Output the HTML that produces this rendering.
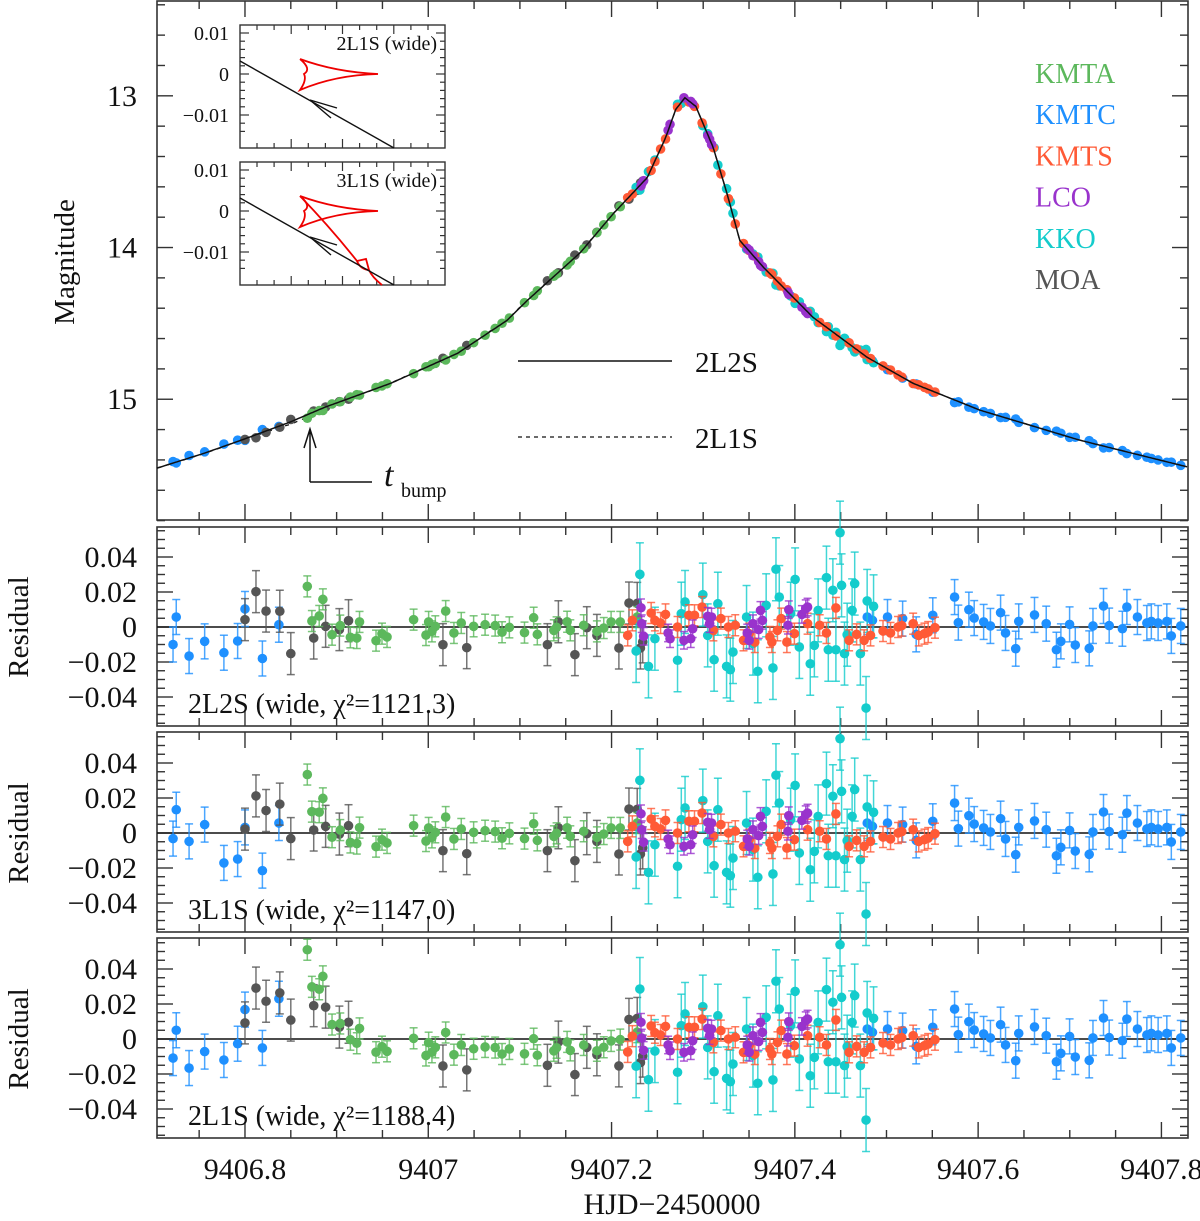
<!DOCTYPE html>
<html><head><meta charset="utf-8"><style>
html,body{margin:0;padding:0;background:#fff;}
svg{display:block;}
text{font-family:"Liberation Serif",serif;}
</style></head><body>
<svg id="chart" width="1200" height="1221" viewBox="0 0 1200 1221" xmlns="http://www.w3.org/2000/svg">
<g id="frames"></g>
<g id="content"></g>
</svg>
<script>
// ---------- data ----------
const modelT=[9406.704,9406.756,9406.799,9406.849,9406.887,9406.959,9407.032,9407.086,9407.108,9407.166,9407.202,9407.239,9407.259,9407.270,9407.280,9407.292,9407.311,9407.326,9407.340,9407.366,9407.420,9407.479,9407.529,9407.602,9407.711,9407.829];
const modelM=[15.454,15.355,15.263,15.151,15.053,14.895,14.697,14.480,14.349,14.033,13.776,13.539,13.276,13.09,13.013,13.07,13.342,13.645,13.954,14.132,14.461,14.724,14.895,15.072,15.270,15.447];
// residual differences of other models relative to 2L2S
const deltaT=[9406.70,9406.80,9406.84,9406.85,9406.87,9406.885,9406.90,9406.93,9406.96,9407.0,9407.05,9407.2,9407.25,9407.83];
const delta3L1S=[0,-0.002,0.008,0.012,0.010,0.004,0.001,0,0,0,0,0,0,0];
const delta2L1S=[0,0.005,0.018,0.026,0.028,0.020,0.009,0.002,-0.002,-0.005,-0.006,-0.004,0,0];

const kmtcT=[9406.7215,9406.725,9406.739,9406.756,9406.777,9406.792,9406.800,9406.819,9406.837,9407.479,9407.4847,9407.5011,9407.5176,9407.5324,9407.5505,9407.5743,9407.5784,9407.5899,9407.5957,9407.606,9407.6134,9407.6245,9407.6299,9407.641,9407.6443,9407.6615,9407.6743,9407.6854,9407.6903,9407.6998,9407.706,9407.7212,9407.7253,9407.7368,9407.743,9407.7574,9407.7623,9407.7738,9407.7841,9407.789,9407.7964,9407.8059,9407.8108,9407.8211];
const kmtcR=[-0.010,0.0057,-0.0166,-0.0082,-0.0147,-0.008,0.0103,-0.018,0.0013,0.0057,0.0038,0.0057,0.0048,-0.0042,0.0067,0.0171,0.0025,0.0099,0.0051,0.0029,0.0006,0.0082,-0.0034,-0.0124,0.0032,0.0069,0.0019,-0.013,-0.0082,0.0015,-0.0103,-0.0122,0.0006,0.012,0.0008,-0.001,0.0114,0.0057,0.0023,0.0032,0.0023,0.0032,-0.0051,0.0006];
const kmtcEarly3L1S=[-0.0032,0.0133,-0.0048,0.0048,-0.0171,-0.0149,0.0032,-0.0215,0.0057];
const kmtcEarly2L1S=[-0.0109,0.005,-0.0166,-0.0072,-0.012,-0.0027,0.0168,-0.0051,0.023];

const moaT=[9406.800,9406.812,9406.823,9406.838,9406.850,9406.875,9406.888,9406.903,9406.913,9407.016,9407.042,9407.130,9407.142,9407.160,9407.173,9407.184,9407.208,9407.219,9407.228,9407.2315,9407.234];
const moaR=[0.0042,0.0202,0.0091,0.009,-0.0152,-0.0063,0.0004,-0.0015,0.0036,-0.0101,-0.0118,-0.0101,0.003,-0.0158,-0.0004,-0.0048,-0.012,0.0137,0.0135,-0.0120,-0.0085];

const kmtaT=[9406.868,9406.873,9406.881,9406.885,9406.895,9406.904,9406.915,9406.922,9406.925,9406.943,9406.9495,9406.955,9406.984,9406.9975,9407.0004,9407.004,9407.0077,9407.019,9407.028,9407.036,9407.0495,9407.062,9407.073,9407.0805,9407.0885,9407.105,9407.115,9407.119,9407.137,9407.140,9407.1515,9407.155,9407.1696,9407.184,9407.1915,9407.1995,9407.2095,9407.228];
const kmtaR=[0.0232,0.0034,0.0063,0.0158,-0.0044,0.0008,-0.0059,-0.0063,0.0029,-0.0078,-0.0038,-0.0057,0.0042,-0.0046,0.0029,-0.0025,0.0004,0.0091,-0.0034,0.0023,0.0004,0.0013,0.0008,-0.003,-0.0002,-0.0032,0.0053,-0.0042,-0.0019,-0.0002,0.003,-0.0019,0.001,-0.0025,-0.0006,0.0029,0.0029,0.0057];

const kmtsT=[9407.2176,9407.2227,9407.2432,9407.2473,9407.2535,9407.2589,9407.272,9407.2844,9407.2905,9407.2988,9407.3111,9407.3193,9407.3275,9407.335,9407.344,9407.3502,9407.3563,9407.3728,9407.3749,9407.381,9407.3851,9407.3913,9407.3995,9407.4139,9407.4271,9407.4345,9407.4448,9407.4592,9407.4674,9407.4756,9407.4826,9407.4962,9407.5044,9407.5126,9407.5167,9407.5291,9407.5352,9407.5414,9407.5455,9407.5529];
const kmtsR=[-0.0048,0.0038,0.008,0.0038,0.0023,0.0072,0,0.0067,0.0067,0.0114,-0.0019,0.0048,0,0.001,-0.0076,-0.0038,-0.0086,-0.0057,-0.0086,-0.0019,0.0048,-0.0086,-0.0038,0.0019,0.001,-0.0034,0.0109,-0.0076,-0.0042,-0.0076,-0.0048,-0.0023,-0.0034,0,0.0008,0.0019,-0.0048,-0.0038,-0.0029,-0.0004];

const lcoT=[9407.2321,9407.2329,9407.235,9407.2617,9407.2638,9407.279,9407.2864,9407.2885,9407.305,9407.307,9407.3091,9407.3481,9407.3502,9407.3543,9407.3605,9407.3625,9407.3646,9407.3925,9407.3934,9407.4077,9407.4119,9407.4139];
const lcoR=[0.011,0.0019,-0.0053,-0.0034,-0.0067,-0.0076,-0.0067,-0.001,0.0061,0.0019,0.0057,-0.0034,-0.0076,0.0019,-0.0015,0.0095,0.0038,0.001,0.0099,0.0072,0.0105,0.0114];

const kkoT=[9407.2268,9407.2309,9407.2403,9407.2473,9407.272,9407.2761,9407.2802,9407.2996,9407.3049,9407.3119,9407.316,9407.3255,9407.3296,9407.3325,9407.3473,9407.3543,9407.3596,9407.3687,9407.3761,9407.3794,9407.383,9407.3954,9407.4003,9407.4049,9407.4168,9407.4213,9407.4254,9407.4345,9407.4365,9407.4415,9407.4448,9407.4493,9407.451,9407.4542,9407.4571,9407.4625,9407.4653,9407.4715,9407.4777,9407.4789,9407.4859];
const kkoR=[-0.0137,0.0301,-0.0225,-0.0067,-0.019,0.0076,0.0143,0.0185,-0.0048,-0.0187,0.0133,-0.0225,-0.0244,-0.0143,0.0057,-0.0095,-0.0253,0.0124,-0.0234,0.033,0.0171,0.0076,0.0272,-0.0114,-0.021,-0.0105,0.0095,0.0282,-0.013,0.021,-0.013,0.0539,0.0238,-0.0152,-0.0044,0.0095,0.0248,-0.0152,-0.0463,0.0149,0.0118];

const seriesNames=['KMTA','KMTC','KMTS','LCO','KKO','MOA'];
const magTicks=[13,14,15];
const resTicks=[0.04,0.02,0,-0.02,-0.04];
const timeTicks=[9406.8,9407,9407.2,9407.4,9407.6,9407.8];

// ---------- geometry ----------
const L=157,R=1188,T0=9406.704,T1=9407.829;
const MAIN={top:1,bot:520,m0:12.375,m1:15.796};
const PANELS=[{top:527,bot:726,zero:627,label:'2L2S (wide, χ²=1121.3)',name:'2l2s'},
              {top:732,bot:932,zero:833,label:'3L1S (wide, χ²=1147.0)',name:'3l1s'},
              {top:938,bot:1138,zero:1039,label:'2L1S (wide, χ²=1188.4)',name:'2l1s'}];
const RS=1750;
const xs=t=>L+(t-T0)/(T1-T0)*(R-L);
const ym=m=>MAIN.top+(m-MAIN.m0)/(MAIN.m1-MAIN.m0)*(MAIN.bot-MAIN.top);
const yr=(p,r)=>p.zero-r*RS;
function interp(tArr,vArr,t){
  if(t<=tArr[0])return vArr[0];
  for(let i=1;i<tArr.length;i++){if(t<=tArr[i]){const f=(t-tArr[i-1])/(tArr[i]-tArr[i-1]);return vArr[i-1]+f*(vArr[i]-vArr[i-1]);}}
  return vArr[vArr.length-1];
}
const NS='http://www.w3.org/2000/svg';
const content=document.getElementById('content');
const frames=document.getElementById('frames');
function el(tag,attrs,parent){const e=document.createElementNS(NS,tag);for(const k in attrs)e.setAttribute(k,attrs[k]);(parent||content).appendChild(e);return e;}
function txt(s,attrs,parent){if(!attrs.fill)attrs.fill='#111';const e=el('text',attrs,parent);e.textContent=s;return e;}

const COL={KMTA:'#5cb85c',KMTC:'#1e90ff',KMTS:'#ff5a36',LCO:'#9933cc',KKO:'#14cccc',MOA:'#555555'};
const ERR={KMTA:0.006,KMTC:0.010,KMTS:0.006,LCO:0.005,KKO:0.018,MOA:0.012};
const DS=[
 {n:'KMTC',t:kmtcT,r:kmtcR},{n:'MOA',t:moaT,r:moaR},{n:'KMTA',t:kmtaT,r:kmtaR},
 {n:'KKO',t:kkoT,r:kkoR},{n:'KMTS',t:kmtsT,r:kmtsR},{n:'LCO',t:lcoT,r:lcoR}];

// ---------- frames & ticks ----------
function frame(top,bot,name){
  const r=el('rect',{x:L,y:top,width:R-L,height:bot-top,fill:'none',stroke:'#333','stroke-width':1.6},frames);
  
  
  for(let t=9406.75;t<T1;t+=0.05){
    const x=xs(t);
    const isMaj=timeTicks.some(v=>Math.abs(v-t)<1e-6);
    const len=isMaj?16:8;
    el('line',{x1:x,y1:top,x2:x,y2:top+len,stroke:'#333','stroke-width':1.4},frames);
    el('line',{x1:x,y1:bot,x2:x,y2:bot-len,stroke:'#333','stroke-width':1.4},frames);
  }
}
frame(MAIN.top,MAIN.bot,'main-panel-frame');
for(let m=12.4;m<15.8;m+=0.2){
  const y=ym(m);const isMaj=magTicks.some(v=>Math.abs(v-m)<1e-6);const len=isMaj?16:8;
  el('line',{x1:L,y1:y,x2:L+len,y2:y,stroke:'#333','stroke-width':1.4},frames);
  el('line',{x1:R,y1:y,x2:R-len,y2:y,stroke:'#333','stroke-width':1.4},frames);
}
magTicks.forEach(m=>{const e=txt(String(m),{x:137,y:ym(m)+10,'font-size':30,'text-anchor':'end'});
  
  });
const mt=txt('Magnitude',{x:0,y:0,'font-size':29,'text-anchor':'middle',transform:'translate(74,262) rotate(-90)'});



PANELS.forEach((p,pi)=>{
  frame(p.top,p.bot,'residual-panel-frame-'+p.name);
  for(let k=-11;k<=11;k++){
    const r=k*0.005;const y=yr(p,r);if(y<p.top+1||y>p.bot-1)continue;
    const len=(k%4===0)?16:8;
    el('line',{x1:L,y1:y,x2:L+len,y2:y,stroke:'#333','stroke-width':1.4},frames);
    el('line',{x1:R,y1:y,x2:R-len,y2:y,stroke:'#333','stroke-width':1.4},frames);
  }
  resTicks.forEach(r=>{
    const s=r===0?'0':(r<0?'−':'')+Math.abs(r).toFixed(2);
    const e=txt(s,{x:137,y:yr(p,r)+10,'font-size':30,'text-anchor':'end'});
    
    
  });
  const rt=txt('Residual',{x:0,y:0,'font-size':29,'text-anchor':'middle',transform:`translate(28,${p.zero}) rotate(-90)`});
  
  
  const zl=el('line',{x1:L,y1:p.zero,x2:R,y2:p.zero,stroke:'#111','stroke-width':1.5});
  
  
});

timeTicks.forEach(t=>{const e=txt(String(t),{x:xs(t),y:1179,'font-size':30,'text-anchor':'middle'});
  
  });
const xt=txt('HJD−2450000',{x:672,y:1214,'font-size':30,'text-anchor':'middle'});



// ---------- model curves ----------
function modelPath(offsetFn){
  let d='';for(let t=T0;t<=T1+1e-9;t+=0.002){const m=interp(modelT,modelM,t)+(offsetFn?offsetFn(t):0);d+=(d?'L':'M')+xs(t).toFixed(1)+','+ym(m).toFixed(1);}
  return d;
}
const dash=el('path',{d:modelPath(t=>0.6*interp(deltaT,delta2L1S,t)),fill:'none',stroke:'#111','stroke-width':1.3,'stroke-dasharray':'4,5'});



// ---------- data points ----------
function drawPoint(x,y,err,c,showErr,name){
  const g=el('g',{});
  
  
  if(showErr){
    el('line',{x1:x,y1:y-err,x2:x,y2:y+err,stroke:c,'stroke-width':1.5,opacity:0.8},g);
    el('line',{x1:x-4,y1:y-err,x2:x+4,y2:y-err,stroke:c,'stroke-width':1.5,opacity:0.8},g);
    el('line',{x1:x-4,y1:y+err,x2:x+4,y2:y+err,stroke:c,'stroke-width':1.5,opacity:0.8},g);
  }
  el('circle',{cx:x,cy:y,r:4.8,fill:c},g);
}
DS.forEach(ds=>{
  const c=COL[ds.n];
  ds.t.forEach((t,i)=>{
    const m=interp(modelT,modelM,t)+ds.r[i];
    drawPoint(xs(t),ym(m),0,c,false,'main-point-'+ds.n.toLowerCase());
    PANELS.forEach((p,pi)=>{
      let r=ds.r[i];
      if(pi>0){
        if(ds.n==='KMTC'&&i<9){r=(pi===1?kmtcEarly3L1S:kmtcEarly2L1S)[i];}
        else r+=interp(deltaT,pi===1?delta3L1S:delta2L1S,t);
      }
      drawPoint(xs(t),yr(p,r),ERR[ds.n]*RS,c,true,'residual-point-'+ds.n.toLowerCase());
    });
  });
});
const solid=el('path',{d:modelPath(null),fill:'none',stroke:'#111','stroke-width':1.5});



PANELS.forEach(p=>{const e=txt(p.label,{x:188,y:p.bot-13,'font-size':28});
  
  });

// ---------- legend ----------
seriesNames.forEach((n,i)=>{const e=txt(n,{x:1035,y:83+i*41.2,'font-size':28,fill:COL[n]});
  
  });
</script>
<script>
// static annotations and insets
(function(){
const NS='http://www.w3.org/2000/svg';
const svg=document.getElementById('chart');
function el(tag,attrs,parent){const e=document.createElementNS(NS,tag);for(const k in attrs)e.setAttribute(k,attrs[k]);(parent||svg).appendChild(e);return e;}
let e;
e=el('line',{x1:518,y1:361,x2:672,y2:361,stroke:'#111','stroke-width':1.5});


e=el('text',{x:695,y:372,'font-size':29,fill:'#111'});e.textContent='2L2S';


e=el('line',{x1:518,y1:437,x2:672,y2:437,stroke:'#111','stroke-width':1.3,'stroke-dasharray':'4,4'});


e=el('text',{x:695,y:448,'font-size':29,fill:'#111'});e.textContent='2L1S';


e=el('path',{d:'M310,482 L310,429 M304,448 L310,429 L316,448 M310,482 L372,482',fill:'none',stroke:'#111','stroke-width':1.5});


e=el('text',{x:384,y:486,'font-size':34,'font-style':'italic',fill:'#111'});e.textContent='t';


e=el('text',{x:401,y:497,'font-size':20,fill:'#111'});e.textContent='bump';


function inset(top,label,extra,name){
  const g=el('g',{});
  
  
  const l=240,r=445,b=top+123;
  el('rect',{x:l,y:top,width:r-l,height:b-top,fill:'#fff',stroke:'#333','stroke-width':1.4},g);
  for(let x=l+17;x<r;x+=17.1){const len=(Math.round((x-l)/17.1)%3===0)?9:5;
    el('line',{x1:x,y1:top,x2:x,y2:top+len,stroke:'#333','stroke-width':1.2},g);
    el('line',{x1:x,y1:b,x2:x,y2:b-len,stroke:'#333','stroke-width':1.2},g);}
  const z=top+49;
  for(let k=-7;k<=6;k++){const y=z-k*8.2;if(y<=top+1||y>=b-1)continue;const len=(k%5===0)?9:5;
    el('line',{x1:l,y1:y,x2:l+len,y2:y,stroke:'#333','stroke-width':1.2},g);
    el('line',{x1:r,y1:y,x2:r-len,y2:y,stroke:'#333','stroke-width':1.2},g);}
  [[0.01,'0.01'],[0,'0'],[-0.01,'−0.01']].forEach(([v,s])=>{const t=el('text',{x:229,y:z-v*4100+7,'font-size':20,'text-anchor':'end',fill:'#111'},g);t.textContent=s;});
  const tl=el('text',{x:437,y:top+25,'font-size':20,'text-anchor':'end',fill:'#111'},g);tl.textContent=label;
  el('path',{d:`M300,${top+34} Q312,${top+44} 304,${top+49} Q307,${top+55} 300,${top+65} Q335,${top+50} 378,${top+49} Q335,${top+47} 300,${top+34}`,fill:'none',stroke:'#e00','stroke-width':1.8},g);
  if(extra){el('path',{d:`M300,${top+34} Q330,${top+65} 357,${top+99} L366,${top+97} L369,${top+108} Q372,${top+115} 382,${top+123} M357,${top+99} Q360,${top+107} 369,${top+108}`,fill:'none',stroke:'#e00','stroke-width':1.8},g);}
  el('line',{x1:l,y1:top+36,x2:394,y2:b,stroke:'#111','stroke-width':1.4},g);
  el('path',{d:`M337,${top+83} L310,${top+75} L331,${top+93}`,fill:'none',stroke:'#111','stroke-width':1.4},g);
}
inset(25,'2L1S (wide)',false,'inset-2l1s-caustic');
inset(162,'3L1S (wide)',true,'inset-3l1s-caustic');
})();
</script>
</body></html>
